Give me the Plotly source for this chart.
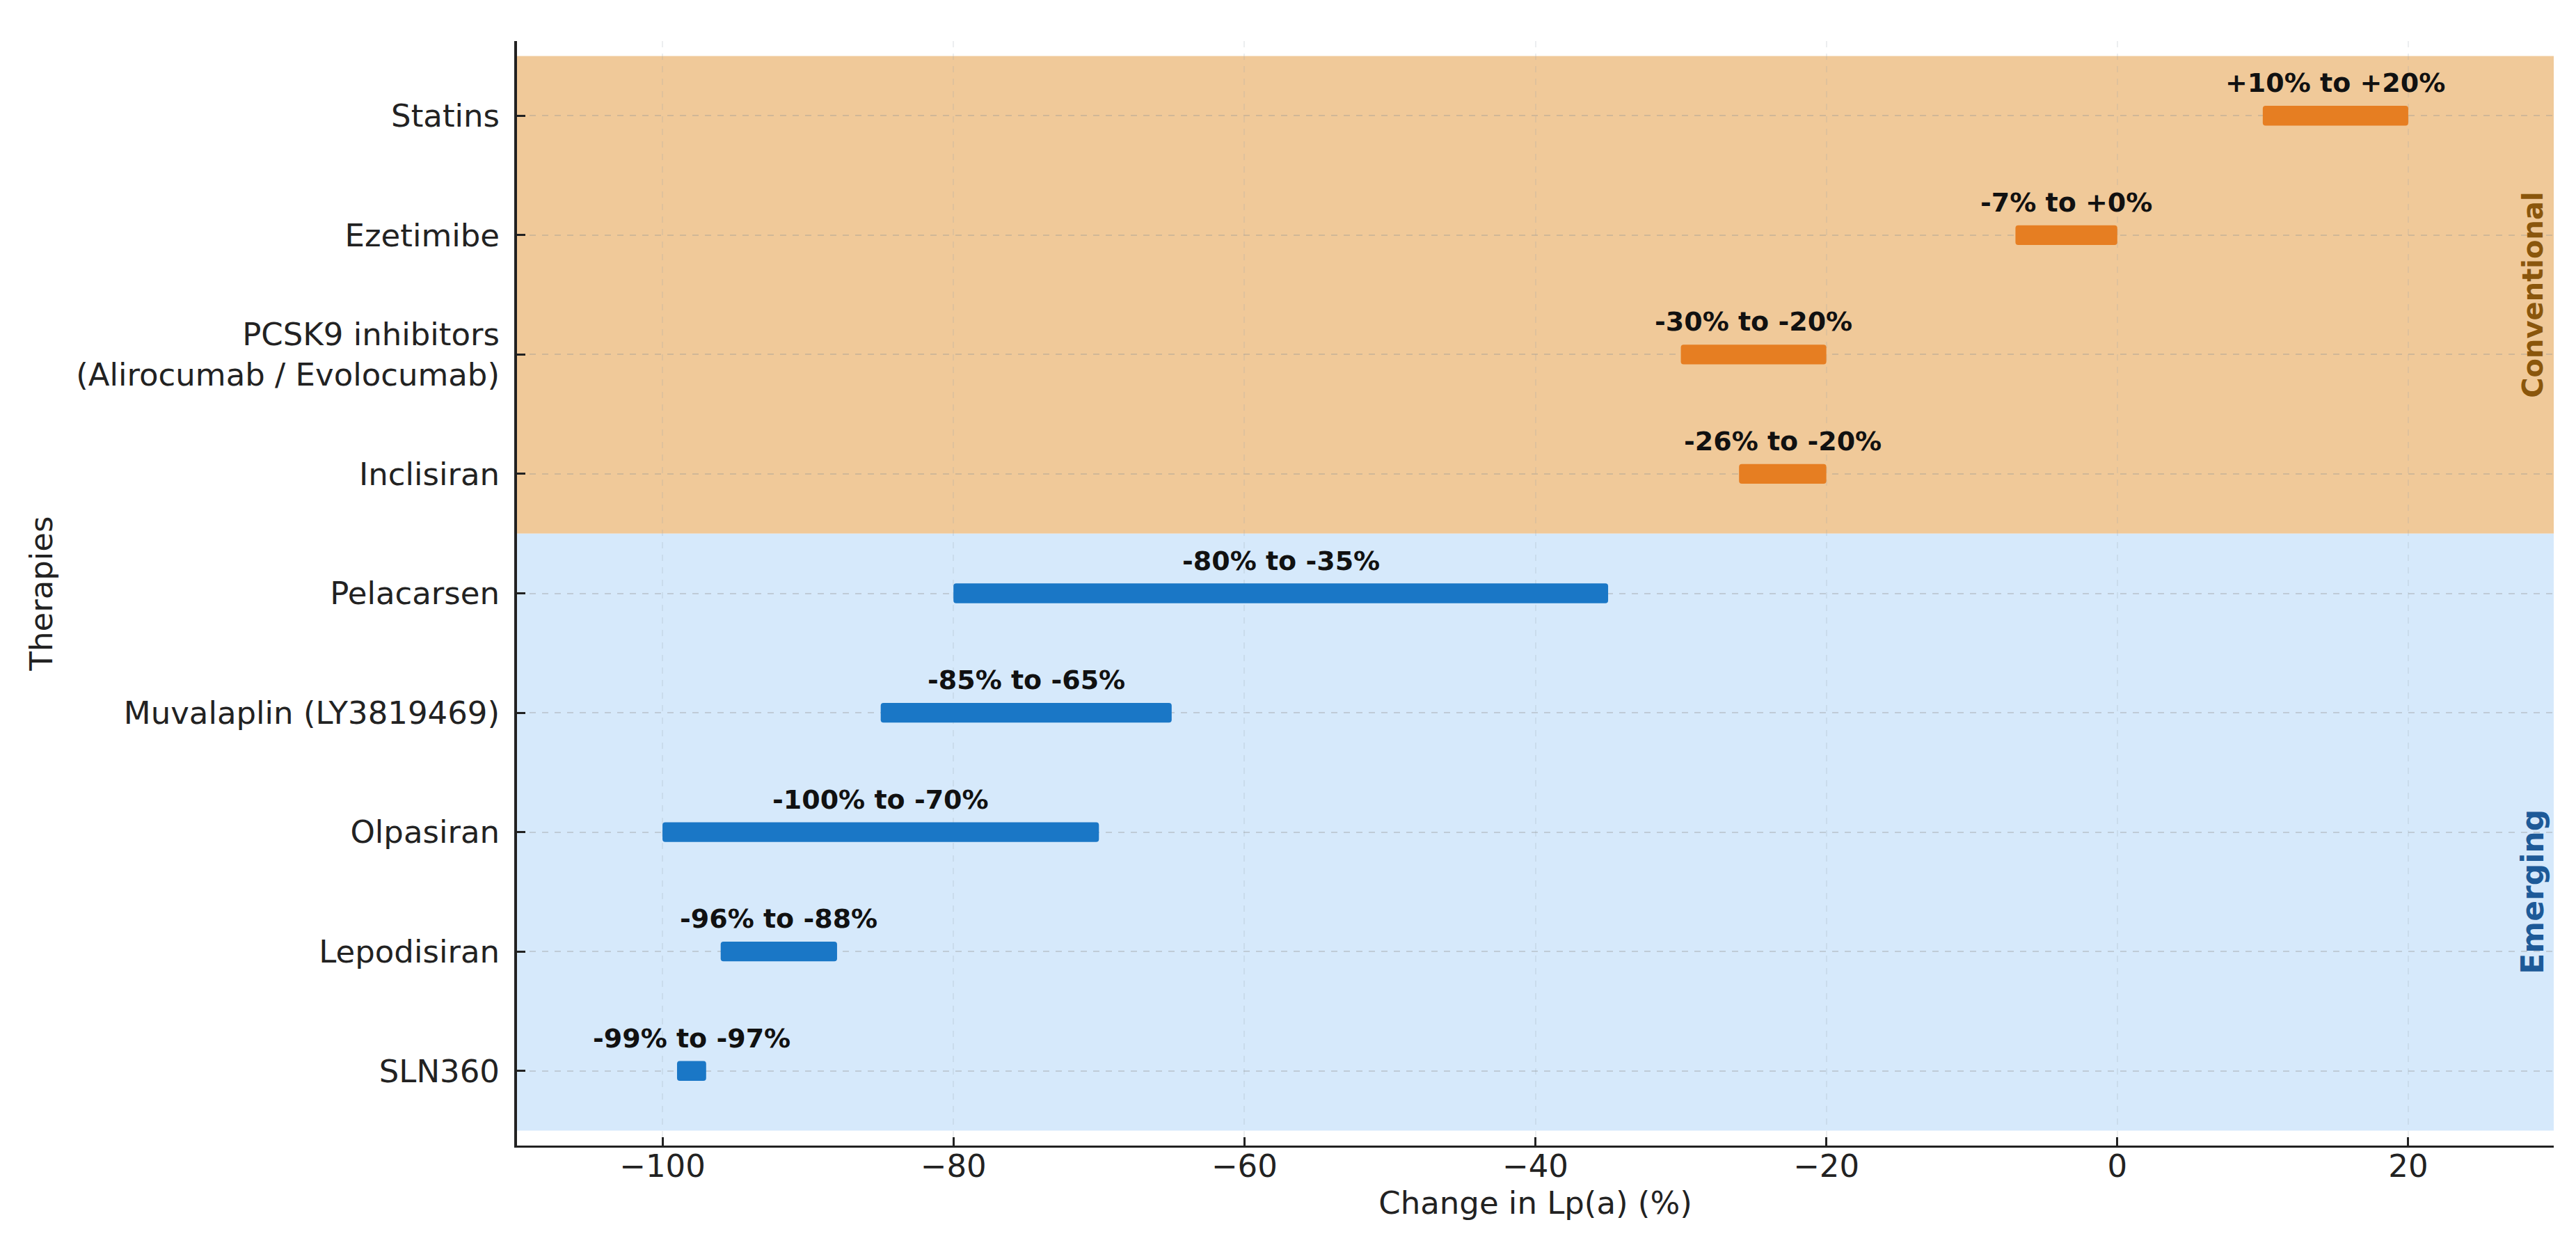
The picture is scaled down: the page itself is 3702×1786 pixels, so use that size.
import plotly.graph_objects as go

therapies = ["Statins", "Ezetimibe", "PCSK9 inhibitors<br>(Alirocumab / Evolocumab)", "Inclisiran",
             "Pelacarsen", "Muvalaplin (LY3819469)", "Olpasiran", "Lepodisiran", "SLN360"]
low = [10, -7, -30, -26, -80, -85, -100, -96, -99]
high = [20, 0, -20, -20, -35, -65, -70, -88, -97]
group = ["Conventional"] * 4 + ["Emerging"] * 5

x_ticks = [-100, -80, -60, -40, -20, 0, 20]
x_tick_text = ["\u2212100", "\u221280", "\u221260", "\u221240", "\u221220", "0", "20"]

bar_color = {"Conventional": "#e67e22", "Emerging": "#1a77c6"}
band_color = {"Conventional": "rgb(240,201,153)", "Emerging": "rgb(214,233,251)"}
label_color = {"Conventional": "#8a560c", "Emerging": "#1d5a98"}
label_size = {"Conventional": 40, "Emerging": 44}

FONT = "DejaVu Sans"
fig = go.Figure()

idx = list(range(len(therapies)))
for g in ["Conventional", "Emerging"]:
    ii = [i for i in idx if group[i] == g]
    fig.add_trace(go.Bar(
        y=ii, x=[high[i] - low[i] for i in ii], base=[low[i] for i in ii],
        orientation="h", width=0.165,
        marker=dict(color=bar_color[g], line=dict(width=0), cornerradius=4),
        showlegend=False, hoverinfo="skip"))

# bar labels
for i in idx:
    fig.add_annotation(x=(low[i] + high[i]) / 2, y=i, yshift=47,
                       text=f"<b>{low[i]:+d}% to {high[i]:+d}%</b>",
                       showarrow=False, font=dict(family=FONT, size=38, color="#111"),
                       xanchor="center", yanchor="middle")

# group bands and labels
for g in ["Conventional", "Emerging"]:
    ii = [i for i in idx if group[i] == g]
    fig.add_shape(type="rect", xref="x domain", yref="y", x0=0, x1=1,
                  y0=min(ii) - 0.5, y1=max(ii) + 0.5, fillcolor=band_color[g],
                  line=dict(width=0), layer="below")
    fig.add_annotation(xref="x domain", yref="y", x=0.9895,
                       y=(min(ii) + max(ii) + 1) / 2 - 0.5 + (0 if g == "Conventional" else 0.5),
                       text=f"<b>{g}</b>", textangle=-90, showarrow=False,
                       font=dict(family=FONT, size=label_size[g], color=label_color[g]),
                       xanchor="center", yanchor="middle")

fig.update_layout(
    width=3702, height=1786,
    margin=dict(l=735, r=40, t=51, b=148, autoexpand=False),
    paper_bgcolor="white", plot_bgcolor="white",
    font=dict(family=FONT, size=45, color="#222"),
    barmode="overlay",
)
fig.update_xaxes(
    range=[-110, 30], tickvals=x_ticks, ticktext=x_tick_text,
    showline=True, linecolor="#222", linewidth=3, mirror=False,
    ticks="inside", ticklen=12, tickwidth=3, tickcolor="#222",
    showgrid=True, gridcolor="rgba(150,160,170,0.18)", griddash="dash", gridwidth=2,
    zeroline=False, tickfont=dict(size=45), ticklabelstandoff=-12,
    title=dict(text="Change in Lp(a) (%)", font=dict(size=45), standoff=10),
)
fig.update_yaxes(
    range=[8.625, -0.625], tickvals=idx, ticktext=therapies,
    showline=True, linecolor="#222", linewidth=4,
    ticks="inside", ticklen=12, tickwidth=3, tickcolor="#222",
    showgrid=True, gridcolor="rgba(150,150,150,0.35)", griddash="dash", gridwidth=2,
    zeroline=False, tickfont=dict(size=45), ticklabelstandoff=12,
    title=dict(text="Therapies", font=dict(size=45), standoff=20),
)

fig.write_html("out.html")
